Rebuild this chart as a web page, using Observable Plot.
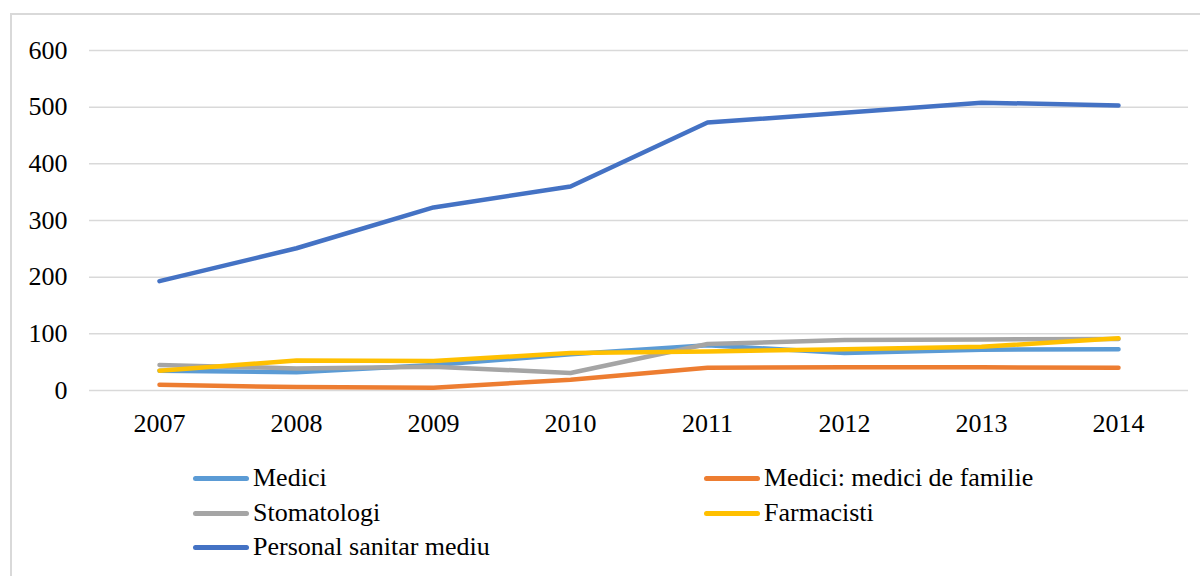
<!DOCTYPE html>
<html>
<head>
<meta charset="utf-8">
<script src="https://cdn.jsdelivr.net/npm/d3@7"></script>
<script src="https://cdn.jsdelivr.net/npm/@observablehq/plot@0.6"></script>
<style>
  html, body { margin: 0; padding: 0; background: #fff; }
  body { width: 1200px; height: 576px; position: relative; overflow: hidden; font-family: "Liberation Serif", "Times New Roman", Tinos, "DejaVu Serif", serif; }
  #frame { position: absolute; left: 10px; top: 13px; width: 1300px; height: 700px; border: 2px solid #d9d9d9; box-sizing: border-box; }
  #chart { position: absolute; left: 0; top: 0; }
  #chart svg, #chart svg text { font-family: "Liberation Serif", "Times New Roman", Tinos, "DejaVu Serif", serif !important; }
  .leg { position: absolute; display: flex; align-items: center; font-size: 26px; color: #000; white-space: nowrap; }
  .leg .sw { width: 56px; height: 5px; border-radius: 3px; margin-right: 4px; }
</style>
</head>
<body>
<div id="frame"></div>
<div id="chart"></div>
<div id="legend"></div>
<script>
const years = ["2007", "2008", "2009", "2010", "2011", "2012", "2013", "2014"];
const seriesNames = ["Medici", "Medici: medici de familie", "Stomatologi", "Farmacisti", "Personal sanitar mediu"];
const colors = ["#5B9BD5", "#ED7D31", "#A5A5A5", "#FFC000", "#4472C4"];
const medici = [35, 32, 45, 64, 80, 66, 72, 73];
const mediciFamilie = [10, 6, 5, 19, 40, 41, 41, 40];
const stomatologi = [45, 39, 42, 31, 82, 89, 90, 91];
const farmacisti = [35, 53, 52, 66, 69, 73, 77, 92];
const personalSanitar = [193, 251, 323, 360, 473, 490, 508, 503];
const yTicks = [0, 100, 200, 300, 400, 500, 600];

const seriesValues = [medici, mediciFamilie, stomatologi, farmacisti, personalSanitar];
const rows = [];
seriesNames.forEach((name, i) => {
  years.forEach((yr, j) => rows.push({series: name, year: yr, value: seriesValues[i][j]}));
});

const chart = Plot.plot({
  width: 1200,
  height: 440,
  marginTop: 50,
  marginBottom: 50,
  marginLeft: 89,
  marginRight: 12,
  style: {fontFamily: "'Liberation Serif', 'Times New Roman', Tinos, 'DejaVu Serif', serif", fontSize: "26px", color: "#000", background: "transparent"},
  x: {type: "point", domain: years, padding: 0.5, label: null},
  y: {domain: [0, 600], ticks: yTicks, label: null},
  color: {domain: seriesNames, range: colors},
  marks: [
    Plot.gridY(yTicks, {stroke: "#d9d9d9", strokeOpacity: 1, strokeWidth: 1.5}),
    Plot.axisY({ticks: yTicks, tickSize: 0, tickPadding: 22, fontSize: 26}),
    Plot.axisX({tickSize: 0, tickPadding: 23, fontSize: 26}),
    Plot.line(rows, {x: "year", y: "value", z: "series", stroke: "series", strokeWidth: 4.5, strokeLinecap: "round", strokeLinejoin: "round"})
  ]
});
document.getElementById("chart").appendChild(chart);

const legendPos = [
  {left: 193, top: 478}, {left: 704, top: 478},
  {left: 193, top: 513}, {left: 704, top: 513},
  {left: 193, top: 547}
];
const legend = document.getElementById("legend");
seriesNames.forEach((name, i) => {
  const d = document.createElement("div");
  d.className = "leg";
  d.style.left = legendPos[i].left + "px";
  d.style.top = (legendPos[i].top - 15) + "px";
  d.style.height = "30px";
  const sw = document.createElement("div");
  sw.className = "sw";
  sw.style.background = colors[i];
  const t = document.createElement("span");
  t.textContent = name;
  d.appendChild(sw);
  d.appendChild(t);
  legend.appendChild(d);
});
</script>
</body>
</html>
